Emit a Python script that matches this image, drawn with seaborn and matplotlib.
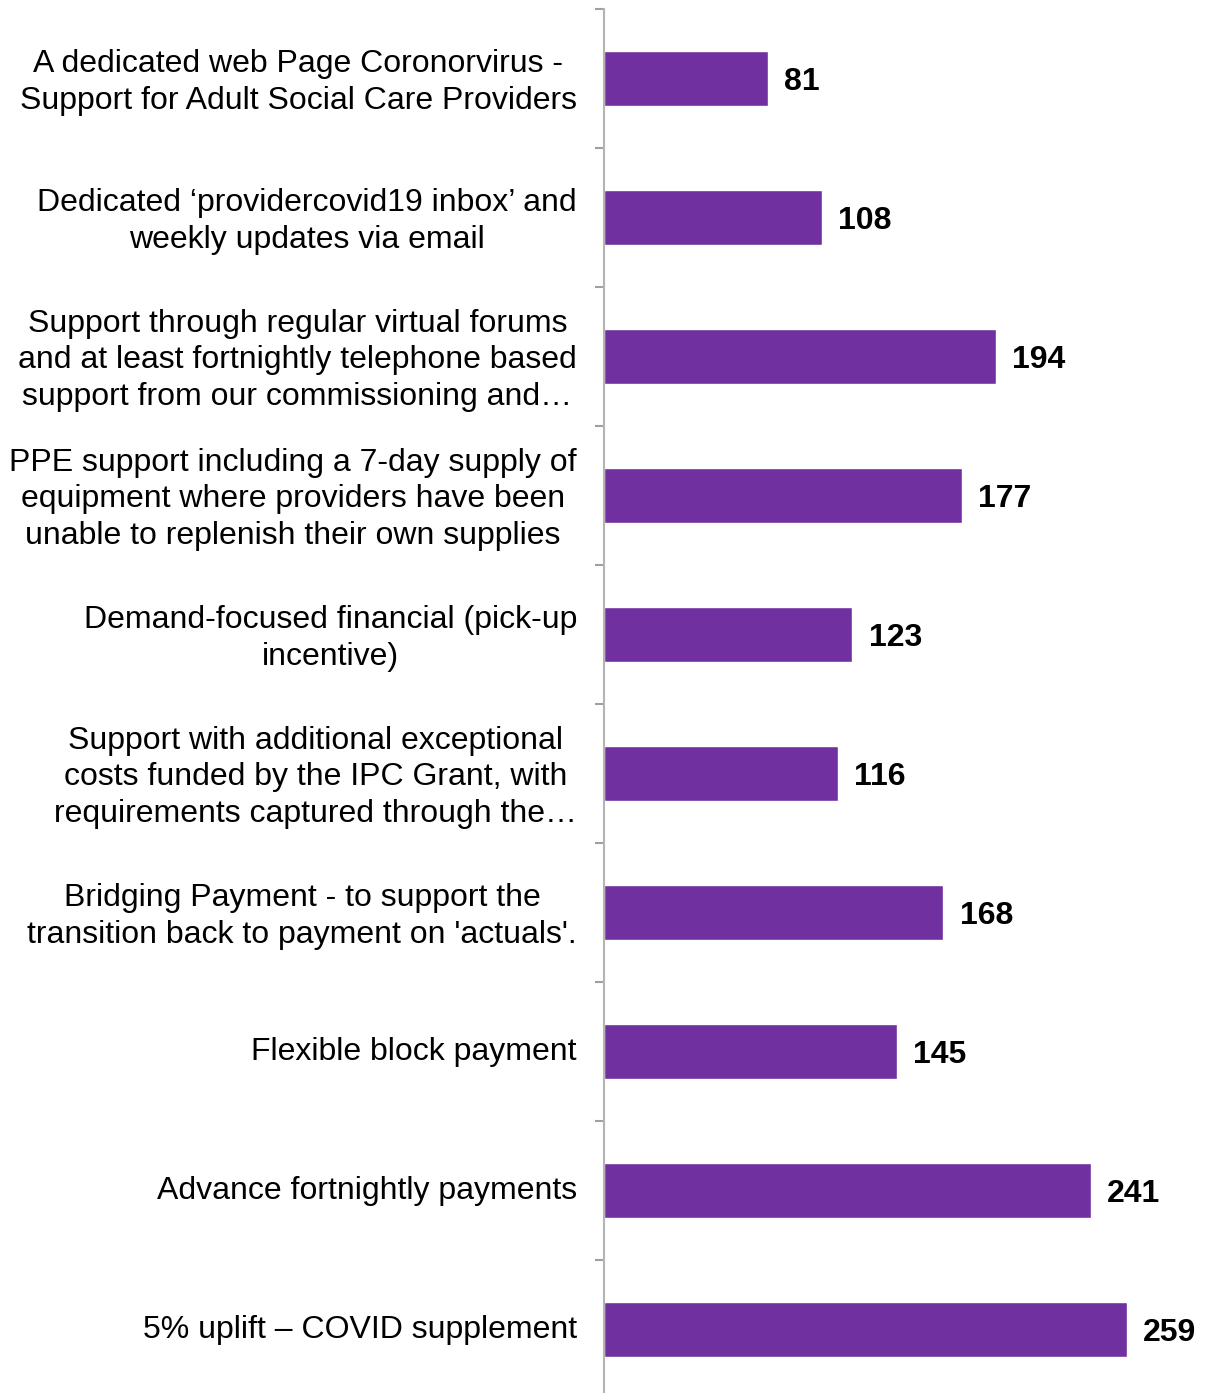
import matplotlib
matplotlib.use("Agg")
import matplotlib.pyplot as plt
import matplotlib.transforms as mtransforms
import seaborn as sns
import pandas as pd
import numpy as np

categories = [
    "A dedicated web Page Coronorvirus -\nSupport for Adult Social Care Providers",
    "Dedicated \u2018providercovid19 inbox\u2019 and\nweekly updates via email",
    "Support through regular virtual forums\nand at least fortnightly telephone based\nsupport from our commissioning and\u2026",
    "PPE support including a 7-day supply of\nequipment where providers have been\nunable to replenish their own supplies",
    "Demand-focused financial (pick-up\nincentive)",
    "Support with additional exceptional\ncosts funded by the IPC Grant, with\nrequirements captured through the\u2026",
    "Bridging Payment - to support the\ntransition back to payment on 'actuals'.",
    "Flexible block payment",
    "Advance fortnightly payments",
    "5% uplift \u2013 COVID supplement",
]
counts = [81, 108, 194, 177, 123, 116, 168, 145, 241, 259]

df = pd.DataFrame({"category": categories, "count": counts})

sns.set_theme(style="white")
plt.rcParams["font.family"] = ["Liberation Sans", "DejaVu Sans"]

fig = plt.figure(figsize=(12.08, 13.93), dpi=100)
ax = fig.add_axes([0.5, -0.0043, 0.5, 0.9978])

sns.barplot(data=df, y="category", x="count", orient="h", color="#7030A0",
            saturation=1, width=0.4, ax=ax)

ax.set_xlim(0, 299)
ax.set_ylim(len(categories) - 0.5, -0.5)
ax.set_xlabel("")
ax.set_ylabel("")
ax.set_xticks([])

for s in ["top", "right", "bottom"]:
    ax.spines[s].set_visible(False)
ax.spines["left"].set_color("#B4B4B4")
ax.spines["left"].set_linewidth(1.5)

# category labels at band centres, tick marks at band boundaries
ax.set_yticks(range(len(categories)))
ax.set_yticklabels(categories, fontsize=23, color="black",
                   multialignment="center", linespacing=1.3)
ax.tick_params(axis="y", which="major", length=0, pad=19.5)
lift = mtransforms.ScaledTranslation(0, 3 / 100, fig.dpi_scale_trans)
for lbl in ax.get_yticklabels():
    lbl.set_transform(lbl.get_transform() + lift)
ax.set_yticks(np.arange(-0.5, len(categories), 1.0), minor=True)
ax.tick_params(axis="y", which="minor", length=6.5, width=1.5,
               color="#A0A0A0", left=True)

for i, v in enumerate(counts):
    ax.text(v + 8, i, str(v), va="center_baseline", ha="left",
            fontsize=23, fontweight="bold", color="black")

fig.savefig("out.png", dpi=100)
